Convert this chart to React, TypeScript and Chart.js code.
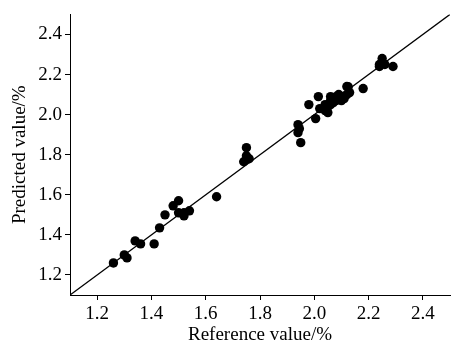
import React, { useEffect, useRef } from "react";
import { Chart, registerables } from "chart.js";

Chart.register(...registerables);

const referenceValues = [
  1.26, 1.30, 1.31, 1.34, 1.36, 1.41, 1.43, 1.45, 1.48, 1.50, 1.50, 1.52, 1.52, 1.54, 1.64,
  1.74, 1.75, 1.76, 1.75, 1.94, 1.945, 1.94, 1.95, 1.98, 2.005, 2.015, 2.02, 2.04, 2.05,
  2.05, 2.06, 2.06, 2.07, 2.08, 2.09, 2.10, 2.10, 2.11, 2.12, 2.13, 2.06, 2.08, 2.12, 2.09,
  2.07, 2.11, 2.04, 2.125, 2.18, 2.24, 2.25, 2.26, 2.29, 2.25, 2.24,
];
const predictedValues = [
  1.26, 1.30, 1.285, 1.37, 1.355, 1.355, 1.435, 1.50, 1.545, 1.57, 1.51, 1.495, 1.51, 1.52, 1.59,
  1.765, 1.795, 1.78, 1.835, 1.95, 1.93, 1.91, 1.86, 2.05, 1.98, 2.09, 2.03, 2.02, 2.01,
  2.04, 2.05, 2.07, 2.06, 2.07, 2.08, 2.07, 2.09, 2.08, 2.10, 2.11, 2.09, 2.09, 2.14, 2.10,
  2.08, 2.09, 2.05, 2.139, 2.13, 2.24, 2.28, 2.25, 2.24, 2.26, 2.25,
];
const identityLine = [1.1, 2.5];
const tickValues = [1.2, 1.4, 1.6, 1.8, 2.0, 2.2, 2.4];
const axisMin = 1.1;
const axisMax = 2.5;
const xTitle = "Reference value/%";
const yTitle = "Predicted value/%";

export default function App() {
  const ref = useRef<HTMLCanvasElement | null>(null);
  useEffect(() => {
    if (!ref.current) return;
    const font = { family: "'Liberation Serif', 'Times New Roman', serif", size: 19 };
    const setTicks = (s: any) => {
      s.ticks = tickValues.map((v) => ({ value: v }));
    };
    const common = (title: string) => ({
      type: "linear" as const,
      min: axisMin,
      max: axisMax,
      afterBuildTicks: setTicks,
      grid: { display: true, drawOnChartArea: false, drawTicks: true, tickLength: 5, color: "#000", lineWidth: 1 },
      border: { display: true, color: "#000", width: 1 },
      ticks: { color: "#000", font, padding: 3, callback: (v: any) => Number(v).toFixed(1) },
      title: { display: true, text: title, color: "#000", font: { ...font, lineHeight: 1 }, padding: { top: 11, bottom: 0 } },
    });
    const chart = new Chart(ref.current, {
      type: "scatter",
      data: {
        datasets: [
          {
            type: "line",
            data: identityLine.map((v) => ({ x: v, y: v })),
            borderColor: "#000",
            borderWidth: 1.3,
            pointRadius: 0,
            fill: false,
          } as any,
          {
            data: referenceValues.map((x, i) => ({ x, y: predictedValues[i] })),
            backgroundColor: "#000",
            borderWidth: 0,
            pointRadius: 4.7,
          },
        ],
      },
      options: {
        animation: false,
        responsive: false,
        layout: { autoPadding: false, padding: { top: 13, right: 1, left: 0, bottom: 0 } },
        plugins: { legend: { display: false }, tooltip: { enabled: false } },
        scales: {
          x: {
            ...common(xTitle),
            position: "bottom",
            afterFit: (s: any) => {
              s.height = 50;
            },
            title: { display: true, text: xTitle, color: "#000", font: { ...font, lineHeight: 1 }, padding: { top: 0, bottom: 0 } },
          },
          y: {
            ...common(yTitle),
            position: "left",
            afterFit: (s: any) => {
              s.width = 70;
            },
          },
        },
      },
    });
    return () => chart.destroy();
  }, []);
  return (
    <div style={{ position: "fixed", left: 0, top: 0, width: 451, height: 345, background: "#fff" }}>
      <canvas ref={ref} width={451} height={345} style={{ display: "block" }} />
    </div>
  );
}
